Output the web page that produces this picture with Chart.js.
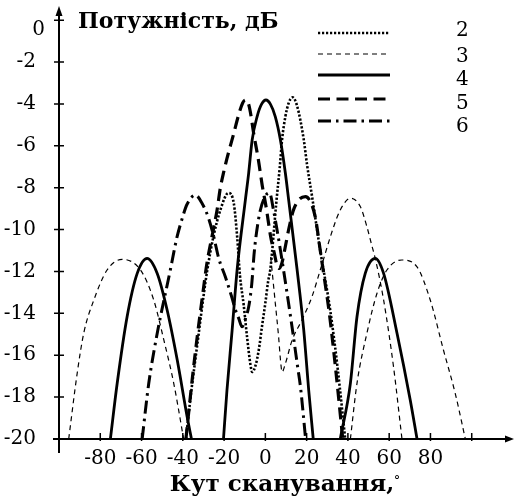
<!DOCTYPE html>
<html>
<head>
<meta charset="utf-8">
<script src="https://cdn.jsdelivr.net/npm/chart.js@4.4.1/dist/chart.umd.min.js"></script>
<style>
  html, body { margin: 0; padding: 0; background: #fff; }
</style>
</head>
<body>
<canvas id="chart" width="515" height="502"></canvas>
<script>
// tick values / labels
const xTickValues = [-80, -60, -40, -20, 0, 20, 40, 60, 80, 100];
const xTickLabels = ['-80', '-60', '-40', '-20', '0', '20', '40', '60', '80', ''];
const yTickValues = [0, -2, -4, -6, -8, -10, -12, -14, -16, -18, -20];

const seriesNames = ['2', '3', '4', '5', '6'];

// curve 2 (dotted)
const c2x = [-38.5, -36, -33, -30, -28.1, -25.2, -21.8, -17.9, -15.3, -13.7, -12.3, -10.5, -8.9, -7.3, -6.4, -4.8, -3.2, -1.6, 0, 1.3, 2.4, 5.4, 7, 8.1, 9.7, 11.3, 13.2, 15.4, 18.6, 20.2, 22.6, 26.6, 31.5, 35, 38.7];
const c2y = [-20, -17.8, -15.5, -13.2, -11.9, -10.35, -9.06, -8.25, -8.74, -10.3, -12.2, -13.6, -15.1, -16.4, -16.8, -16.5, -15.75, -14.6, -13.5, -12.5, -11.9, -8.6, -7.0, -5.7, -4.6, -3.95, -3.68, -4.1, -5.7, -6.9, -8.4, -11.0, -13.9, -16.6, -20];

// curve 3 (thin dashed), null = break between lobes
const c3x = [-95.3, -91.2, -88, -83.1, -76.7, -69.4, -60.5, -54.1, -49.2, -44.4, -39.6, null,
  2.6, 4.8, 6.4, 7.3, 8.1, 9.7, 12.9, 17.8, 22.6, 26.6, 33.1, 36.3, 41.2, 46, 49.2, 51.7, 53.3, 57.3, 62.1, 66.2, null,
  41.2, 44.4, 49.2, 54.1, 58.9, 66.2, 73.4, 79.9, 86.3, 92, 96.9];
const c3y = [-20, -16.87, -14.94, -13.36, -11.93, -11.42, -11.93, -13.36, -15.27, -17.34, -20, null,
  -11.3, -13.5, -15.1, -16.2, -16.8, -16.4, -15.3, -14.3, -13.2, -11.93, -9.86, -9.06, -8.5, -8.9, -9.86, -10.8, -11.4, -13.36, -16.55, -20, null,
  -20, -17.34, -14.95, -13.04, -11.93, -11.45, -11.77, -13.36, -15.75, -17.82, -20];

// curve 4 (solid)
const c4x = [-75.1, -71.8, -67, -62.1, -57.3, -52.4, -47.6, -42.7, -37.9, -35.8, null,
  -20.3, -18.6, -16.1, -13.7, -9.7, -8.1, -6.4, -4.0, -1.9, 0.3, 2.5, 4.8, 7.3, 9.7, 11.3, 15.4, 18.6, 21, 23.2, null,
  36.3, 41.2, 44.4, 48.4, 53.3, 57.3, 63.8, 70.2, 73.5];
const c4y = [-20, -17.34, -14.16, -12.09, -11.37, -12.09, -13.84, -16.23, -18.94, -20, null,
  -20, -17.66, -14.8, -11.93, -8.59, -7.31, -5.72, -4.6, -4.02, -3.81, -4.02, -4.6, -5.72, -7.31, -8.59, -11.93, -14.8, -17.66, -20, null,
  -20, -17.34, -14.16, -12.09, -11.37, -12.09, -14.95, -18.14, -20];

// curve 5 (heavy dashed)
const c5x = [-38.5, -35.5, -33, -30.7, -28.3, -25.9, -23.4, -21.8, -20.2, -18.6, -15.3, -12.9, -11, -9.7, -8.3, -7.3, -5.5, -3.5, -1.5, 0.5, 2.5, 4.5, 5.6, 6.8, 8, 9.5, 11.5, 13.5, 16, 19.4, 21.5, 24.2, 26.6, 29, 31, 34, 37.5];
const c5y = [-20, -17.2, -15.1, -13.35, -11.6, -10.34, -9.06, -8.0, -7.25, -6.6, -5.4, -4.5, -3.95, -3.81, -3.95, -4.37, -5.5, -6.6, -7.9, -9.0, -10.3, -11.2, -11.7, -11.85, -11.6, -10.9, -9.9, -9.1, -8.6, -8.42, -8.6, -9.4, -11.0, -12.6, -14.0, -16.6, -20];

// curve 6 (dash-dot)
const c6x = [-59.7, -56.5, -52.4, -46, -44.4, -42.8, -40.4, -38, -33.9, -30.7, -27.5, -25, -22.6, -19.4, -16.1, -14.5, -12.9, -11.3, -9.5, -8.1, -6.6, -5.5, -4.5, -2.5, 0, 2, 4, 7, 10, 13.3, 15.7, 17, 19.5];
const c6y = [-20, -17.34, -14.95, -11.9, -11.1, -10.35, -9.5, -8.8, -8.35, -8.74, -9.46, -10.34, -11.37, -12.25, -13.28, -13.84, -14.24, -14.64, -14.2, -13.7, -12.6, -11.2, -10.3, -9.1, -8.4, -8.25, -9.1, -10.8, -12.7, -14.9, -16.6, -17.5, -20];

function pts(xs, ys) {
    return xs.map((x, i) => (x === null ? { x: NaN, y: null } : { x: x, y: ys[i] }));
}

const styles = [
    { data: pts(c2x, c2y), borderWidth: 2.6, borderDash: [2.2, 1.8] },
    { data: pts(c3x, c3y), borderWidth: 1.2, borderDash: [5, 4] },
    { data: pts(c4x, c4y), borderWidth: 2.8, borderDash: [] },
    { data: pts(c5x, c5y), borderWidth: 3.2, borderDash: [12, 6.5] },
    { data: pts(c6x, c6y), borderWidth: 3, borderDash: [13, 5, 2.5, 5] },
];

const datasets = styles.map((s, i) => ({
    label: seriesNames[i],
    data: s.data,
    borderColor: '#000',
    borderWidth: s.borderWidth,
    borderDash: s.borderDash,
    pointRadius: 0,
    cubicInterpolationMode: 'monotone',
    spanGaps: false,
    fill: false,
}));

// axes with arrows and crossing ticks, plus y title, degree sign and legend
const axesPlugin = {
    id: 'axes',
    beforeDatasetsDraw(chart) {
        const { ctx, chartArea: a, scales } = chart;
        const xs = scales.x, ys = scales.y;
        ctx.save();
        ctx.strokeStyle = '#000';
        ctx.fillStyle = '#000';
        ctx.lineWidth = 2;
        ctx.beginPath();
        ctx.moveTo(a.left, a.bottom + 14);
        ctx.lineTo(a.left, a.top + 6);
        ctx.moveTo(a.left - 6, a.bottom);
        ctx.lineTo(a.right - 6, a.bottom);
        ctx.stroke();
        // arrows
        ctx.beginPath();
        ctx.moveTo(a.left, a.top);
        ctx.lineTo(a.left - 3.5, a.top + 10);
        ctx.lineTo(a.left + 3.5, a.top + 10);
        ctx.closePath();
        ctx.fill();
        ctx.beginPath();
        ctx.moveTo(a.right + 1, a.bottom);
        ctx.lineTo(a.right - 8, a.bottom - 3.5);
        ctx.lineTo(a.right - 8, a.bottom + 3.5);
        ctx.closePath();
        ctx.fill();
        ctx.lineWidth = 1.5;
        ctx.beginPath();
        yTickValues.forEach(v => {
            const py = ys.getPixelForValue(v);
            ctx.moveTo(a.left - 5, py);
            ctx.lineTo(a.left + 5, py);
        });
        xTickValues.forEach(v => {
            const px = xs.getPixelForValue(v);
            ctx.moveTo(px, a.bottom - 6);
            ctx.lineTo(px, a.bottom + 2);
        });
        ctx.stroke();
        ctx.restore();
    },
    afterDraw(chart) {
        const { ctx, scales } = chart;
        ctx.save();
        ctx.fillStyle = '#000';
        ctx.strokeStyle = '#000';
        // "0" label sits a little below its tick, clear of the arrow
        ctx.font = '20px "DejaVu Serif"';
        ctx.textAlign = 'right';
        ctx.textBaseline = 'middle';
        ctx.fillText('0', 45, scales.y.getPixelForValue(0) + 10);
        // y title
        ctx.font = 'bold 22px "DejaVu Serif"';
        ctx.textBaseline = 'alphabetic';
        ctx.textAlign = 'left';
        ctx.fillText('Потужність, дБ', 78, 28);
        // degree sign of the x title
        ctx.font = '13px "DejaVu Serif"';
        ctx.textAlign = 'center';
        ctx.textBaseline = 'middle';
        ctx.fillText('°', 397, 482);
        // legend
        const rowY = [33, 54, 75, 99, 121];
        const textY = [31, 57, 80, 104, 127];
        ctx.font = '20px "DejaVu Serif"';
        ctx.textAlign = 'left';
        chart.data.datasets.forEach((ds, i) => {
            ctx.lineWidth = ds.borderWidth;
            ctx.setLineDash(ds.borderDash);
            ctx.beginPath();
            ctx.moveTo(318, rowY[i]);
            ctx.lineTo(390, rowY[i]);
            ctx.stroke();
            ctx.setLineDash([]);
            ctx.fillText(ds.label, 456, textY[i]);
        });
        ctx.restore();
    }
};

new Chart(document.getElementById('chart'), {
    type: 'line',
    data: { datasets: datasets },
    plugins: [axesPlugin],
    options: {
        responsive: false,
        animation: false,
        layout: { padding: { left: 0, right: 2, top: 6, bottom: 0 } },
        plugins: { legend: { display: false }, tooltip: { enabled: false } },
        scales: {
            x: {
                type: 'linear',
                min: -100,
                max: 120,
                grid: { display: false },
                border: { display: false },
                afterFit(scale) {
                    scale.height = 63;
                    scale.paddingLeft = 0;
                    scale.paddingRight = 0;
                },
                afterBuildTicks(scale) { scale.ticks = xTickValues.map(v => ({ value: v })); },
                ticks: {
                    autoSkip: false,
                    maxRotation: 0,
                    padding: 0,
                    color: '#000',
                    font: { family: 'DejaVu Serif', size: 20 },
                    callback: (v) => xTickLabels[xTickValues.indexOf(v)],
                },
                title: {
                    display: true,
                    text: 'Кут сканування, ',
                    color: '#000',
                    font: { family: 'DejaVu Serif', size: 23, weight: 'bold' },
                    padding: { top: 0, bottom: 3 },
                },
            },
            y: {
                type: 'linear',
                min: -20,
                max: 0.68,
                grid: { display: false },
                border: { display: false },
                afterFit(scale) {
                    scale.width = 59;
                    scale.paddingTop = 0;
                    scale.paddingBottom = 0;
                },
                afterBuildTicks(scale) { scale.ticks = yTickValues.map(v => ({ value: v })); },
                ticks: {
                    padding: 15,
                    color: '#000',
                    font: { family: 'DejaVu Serif', size: 20 },
                    callback: (v) => (v === 0 ? '' : String(v)),
                },
            },
        },
    },
});
</script>
</body>
</html>
